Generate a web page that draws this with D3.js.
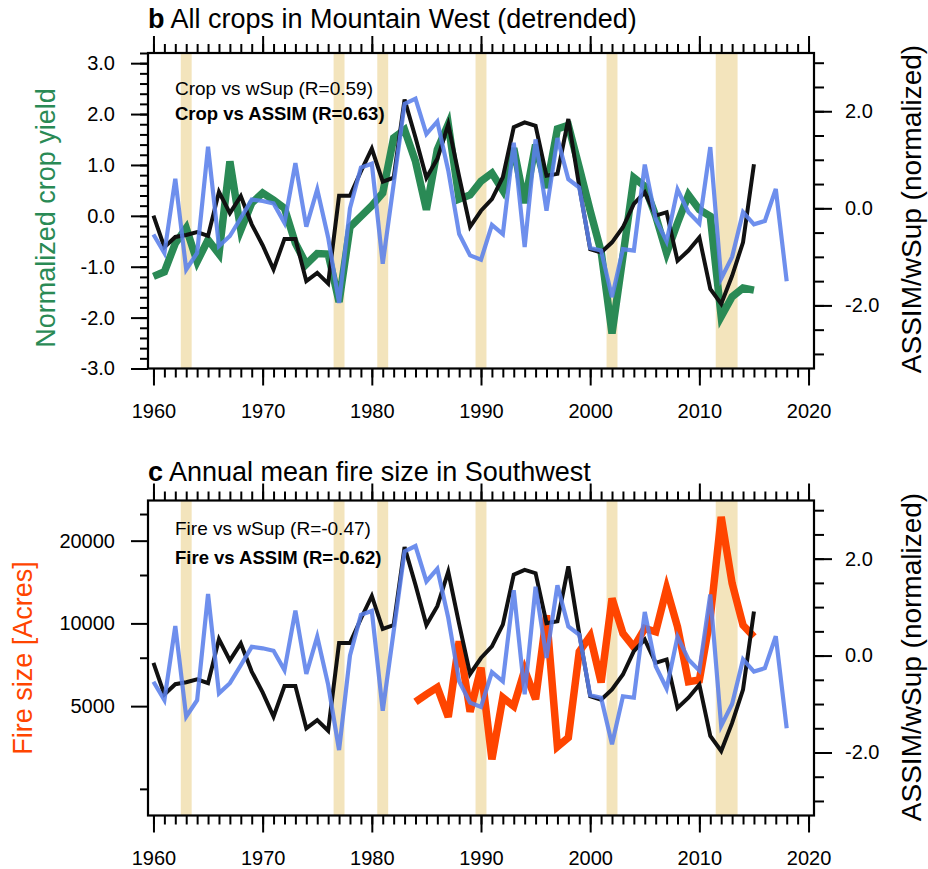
<!DOCTYPE html>
<html><head><meta charset="utf-8">
<script src="https://cdn.jsdelivr.net/npm/d3@7"></script>
<style>
body{margin:0;background:#fff}
svg{display:block}
text{font-family:"Liberation Sans",Arial,Helvetica,sans-serif;fill:#000}
</style>
</head><body>
<svg id="chart" width="928" height="869"></svg>
<script>
// ---------------- data ----------------
const cropYears = d3.range(1960, 2016);
const cropYield = [-1.19,-1.10,-0.54,-0.24,-0.90,-0.47,-0.75,1.07,-0.28,0.25,
  0.45,0.31,0.15,-0.54,-0.95,-0.74,-0.75,-1.69,-0.22,-0.01,
  0.20,0.45,1.53,1.69,1.07,0.12,1.30,1.80,0.33,0.41,
  0.68,0.84,0.50,1.33,0.25,1.40,0.55,1.71,1.78,0.95,
  0.10,-0.70,-2.31,-0.80,0.75,0.58,0.00,-0.73,-0.14,0.41,
  0.12,-0.01,-1.98,-1.59,-1.42,-1.46];

const assimYears = d3.range(1960, 2016);
const assim = [-0.15,-0.80,-0.59,-0.55,-0.49,-0.57,0.34,-0.10,0.25,-0.33,
  -0.76,-1.26,-0.63,-0.63,-1.50,-1.33,-1.55,0.26,0.26,0.76,
  1.23,0.55,0.63,2.24,1.46,0.63,1.02,1.73,0.65,-0.38,
  -0.05,0.19,0.64,1.67,1.77,1.70,0.67,0.71,1.84,0.45,
  -0.84,-0.91,-0.70,-0.39,0.09,0.33,-0.15,-0.08,-1.08,-0.87,
  -0.60,-1.66,-1.97,-1.39,-0.70,0.91];

const wSupYears = d3.range(1960, 2019);
const wSup = [-0.54,-0.92,0.61,-1.26,-0.92,1.27,-0.78,-0.57,-0.20,0.18,
  0.15,0.10,-0.30,0.93,-0.38,0.39,-0.60,-1.95,0.00,0.84,
  0.92,-1.14,0.50,2.15,2.26,1.53,1.79,0.78,-0.53,-0.97,
  -1.06,-0.34,-0.53,1.35,-0.80,1.42,-0.05,1.45,0.60,0.43,
  -0.82,-0.87,-1.83,-0.84,-0.87,0.90,-0.22,-0.68,0.39,-0.08,
  -0.31,1.26,-1.45,-1.00,-0.08,-0.33,-0.26,0.40,-1.50];

const fireYears = d3.range(1984, 2016);
const fireSize = [5180,5520,5850,4570,8600,4770,6900,3200,5370,5000,
  6760,5300,10700,3560,3840,7900,9000,6100,12330,9200,
  8200,9590,9320,13400,9720,6130,6220,10500,24400,14000,
  9850,8940];

const droughtStart = [1962.5,1976.5,1980.5,1989.5,2001.5,2011.5];
const droughtEnd   = [1963.5,1977.5,1981.5,1990.5,2002.5,2013.5];

const xMajorTicks = [1960,1970,1980,1990,2000,2010,2020];
const xMinorTicks = d3.range(1960, 2021);
const cropTicks = [-3,-2,-1,0,1,2,3];
const cropMinorTicks = d3.range(-15, 17).map(i => i / 5);
const normTicks = [-2,0,2];
const normMinorTicks = d3.range(-6, 7).map(i => i / 2);
const fireTicks = [5000,10000,20000];
const fireMinorTicks = [2500,7500,15000,25000];

// ---------------- layout ----------------
const svg = d3.select("#chart");
const L = 148, R = 814;
const x = d3.scaleLinear().domain([1959.5, 2020.5]).range([L, R]);

const colGreen = "#2a8a55", colOrange = "#ff4500", colBlue = "#5a7fea", colBand = "#f3e4bc";

function panel(top, bottom, id) {
  const g = svg.append("g");
  const yR = d3.scaleLinear().domain([-3.3, 3.2]).range([bottom, top]);
  svg.append("clipPath").attr("id", id).append("rect")
    .attr("x", L).attr("y", top).attr("width", R - L).attr("height", bottom - top);
  const plot = g.append("g").attr("clip-path", `url(#${id})`);
  plot.selectAll("rect.band").data(droughtStart).enter().append("rect")
    .attr("x", (d) => x(d)).attr("width", (d, i) => x(droughtEnd[i]) - x(d))
    .attr("y", top).attr("height", bottom - top).attr("fill", colBand);

  const axG = g.append("g");
  function styleAxis(sel) {
    sel.select(".domain").remove();
    sel.selectAll(".tick line").attr("stroke", "#000").attr("stroke-width", 2);
    sel.selectAll(".tick text").style("font-size", "20px")
      .style("font-family", '"Liberation Sans",Arial,sans-serif').attr("fill", "#000");
  }
  axG.append("g").attr("transform", `translate(0,${bottom})`)
    .call(d3.axisBottom(x).tickValues(xMinorTicks).tickSize(9).tickFormat("")).call(styleAxis);
  axG.append("g").attr("transform", `translate(0,${bottom})`)
    .call(d3.axisBottom(x).tickValues(xMajorTicks).tickSize(17).tickPadding(18).tickFormat(d3.format("d"))).call(styleAxis);
  axG.append("g").attr("transform", `translate(0,${top})`)
    .call(d3.axisTop(x).tickValues(xMinorTicks).tickSize(9).tickFormat("")).call(styleAxis);
  axG.append("g").attr("transform", `translate(0,${top})`)
    .call(d3.axisTop(x).tickValues(xMajorTicks).tickSize(17).tickFormat("")).call(styleAxis);
  axG.append("g").attr("transform", `translate(${R},0)`)
    .call(d3.axisRight(yR).tickValues(normMinorTicks).tickSize(10).tickFormat("")).call(styleAxis);
  axG.append("g").attr("transform", `translate(${R},0)`)
    .call(d3.axisRight(yR).tickValues(normTicks).tickSize(18).tickPadding(13).tickFormat(d3.format(".1f"))).call(styleAxis);
  axG.selectAll("text").text(function(){ return this.textContent.replace("−","-"); });

  return {g, plot, yR, axG};
}

function addFrame(p, top, bottom) {
  p.g.append("rect").attr("x", L).attr("y", top).attr("width", R - L).attr("height", bottom - top)
    .attr("fill", "none").attr("stroke", "#000").attr("stroke-width", 2.2);
}

function styleLeft(sel) {
  sel.select(".domain").remove();
  sel.selectAll(".tick line").attr("stroke", "#000").attr("stroke-width", 2);
  sel.selectAll(".tick text").style("font-size", "20px")
    .style("font-family", '"Liberation Sans",Arial,sans-serif').attr("fill", "#000");
  sel.selectAll("text").text(function(){ return this.textContent.replace("−","-"); });
}

// ---------- panel b ----------
const bTop = 53, bBot = 368.5;
const pb = panel(bTop, bBot, "clipB");
const yCrop = d3.scaleLinear().domain([-3, 3.2]).range([bBot, bTop]);
pb.axG.append("g").attr("transform", `translate(${L},0)`)
  .call(d3.axisLeft(yCrop).tickValues(cropMinorTicks).tickSize(8).tickFormat("")).call(styleLeft);
pb.axG.append("g").attr("transform", `translate(${L},0)`)
  .call(d3.axisLeft(yCrop).tickValues(cropTicks).tickSize(17).tickPadding(16).tickFormat(d3.format(".1f"))).call(styleLeft);

const lineCrop = d3.line().x((d, i) => x(cropYears[i])).y(d => yCrop(d));
const lineAssimB = d3.line().x((d, i) => x(assimYears[i])).y(d => pb.yR(d));
const lineWsupB = d3.line().x((d, i) => x(wSupYears[i])).y(d => pb.yR(d));
pb.plot.append("path").attr("d", lineCrop(cropYield)).attr("fill", "none")
  .attr("stroke", colGreen).attr("stroke-width", 7.5);
pb.plot.append("path").attr("d", lineAssimB(assim)).attr("fill", "none")
  .attr("stroke", "#111").attr("stroke-width", 4);
pb.plot.append("path").attr("d", lineWsupB(wSup)).attr("fill", "none")
  .attr("stroke", colBlue).attr("stroke-opacity", 0.88).attr("stroke-width", 4.2);
addFrame(pb, bTop, bBot);

const tb = svg.append("text").attr("x", 148).attr("y", 28).style("font-size", "27px");
tb.append("tspan").attr("font-weight", "bold").text("b");
tb.append("tspan").text(" All crops in Mountain West (detrended)");
svg.append("text").attr("x", 175).attr("y", 95).style("font-size", "19px").text("Crop vs wSup (R=0.59)");
svg.append("text").attr("x", 175).attr("y", 120).style("font-size", "18.5px").attr("font-weight", "bold").text("Crop vs ASSIM (R=0.63)");
svg.append("text").attr("transform", "translate(55,218) rotate(-90)").attr("text-anchor", "middle")
  .style("font-size", "27px").style("fill", colGreen).text("Normalized crop yield");
svg.append("text").attr("transform", "translate(921,209) rotate(-90)").attr("text-anchor", "middle")
  .style("font-size", "28px").text("ASSIM/wSup (normalized)");

// ---------- panel c ----------
const cTop = 500.5, cBot = 815.5;
const pc = panel(cTop, cBot, "clipC");
const yFire = d3.scaleLog().domain([2000, 28000]).range([cBot, cTop]);
pc.axG.append("g").attr("transform", `translate(${L},0)`)
  .call(d3.axisLeft(yFire).tickValues(fireMinorTicks).tickSize(8).tickFormat("")).call(styleLeft);
pc.axG.append("g").attr("transform", `translate(${L},0)`)
  .call(d3.axisLeft(yFire).tickValues(fireTicks).tickSize(17).tickPadding(16).tickFormat(d3.format("d"))).call(styleLeft);

const lineFire = d3.line().x((d, i) => x(fireYears[i])).y(d => yFire(d));
const lineAssimC = d3.line().x((d, i) => x(assimYears[i])).y(d => pc.yR(d));
const lineWsupC = d3.line().x((d, i) => x(wSupYears[i])).y(d => pc.yR(d));
pc.plot.append("path").attr("d", lineFire(fireSize)).attr("fill", "none")
  .attr("stroke", colOrange).attr("stroke-width", 7.5);
pc.plot.append("path").attr("d", lineAssimC(assim)).attr("fill", "none")
  .attr("stroke", "#111").attr("stroke-width", 4);
pc.plot.append("path").attr("d", lineWsupC(wSup)).attr("fill", "none")
  .attr("stroke", colBlue).attr("stroke-opacity", 0.88).attr("stroke-width", 4.2);
addFrame(pc, cTop, cBot);

const tc = svg.append("text").attr("x", 148).attr("y", 481).style("font-size", "27px");
tc.append("tspan").attr("font-weight", "bold").text("c");
tc.append("tspan").text(" Annual mean fire size in Southwest");
svg.append("text").attr("x", 175).attr("y", 535).style("font-size", "19px").text("Fire vs wSup (R=-0.47)");
svg.append("text").attr("x", 175).attr("y", 564).style("font-size", "18.5px").attr("font-weight", "bold").text("Fire vs ASSIM (R=-0.62)");
svg.append("text").attr("transform", "translate(32,658) rotate(-90)").attr("text-anchor", "middle")
  .style("font-size", "27px").style("fill", colOrange).text("Fire size [Acres]");
svg.append("text").attr("transform", "translate(921,657) rotate(-90)").attr("text-anchor", "middle")
  .style("font-size", "28px").text("ASSIM/wSup (normalized)");
</script>
</body></html>
